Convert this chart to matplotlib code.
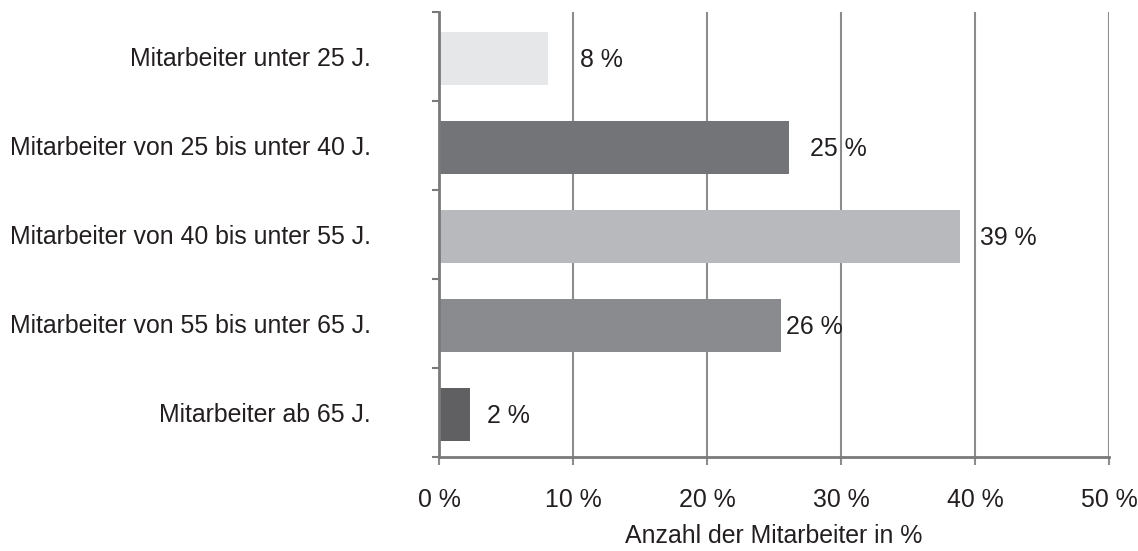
import matplotlib.pyplot as plt
import numpy as np

plt.rcParams['font.family'] = ['Liberation Sans', 'DejaVu Sans']

# Age groups, top to bottom
categories = [
    "Mitarbeiter unter 25 J.",
    "Mitarbeiter von 25 bis unter 40 J.",
    "Mitarbeiter von 40 bis unter 55 J.",
    "Mitarbeiter von 55 bis unter 65 J.",
    "Mitarbeiter ab 65 J.",
]
# bar lengths as drawn (%), and the printed labels
values = [8.1, 26.1, 38.9, 25.5, 2.3]
value_labels = ["8 %", "25 %", "39 %", "26 %", "2 %"]
xticks = [0, 10, 20, 30, 40, 50]
xtick_labels = ["0 %", "10 %", "20 %", "30 %", "40 %", "50 %"]

bar_colors = ['#e6e7e8', '#737477', '#b8b9bc', '#8a8b8e', '#606062']
# gap between bar end and its label, in data units
label_gap = [2.4, 1.6, 1.5, 0.4, 1.3]

FS = 17.9

fig = plt.figure(figsize=(11.38, 5.51), dpi=100)
ax = fig.add_axes([0.3858, 0.1706, 0.5887, 0.8076])

y = np.arange(len(categories))
ax.barh(y + 0.02, values, height=0.6, color=bar_colors, zorder=3)

for i, v in enumerate(values):
    ax.text(v + label_gap[i], y[i] + 0.04, value_labels[i], va='center', ha='left',
            fontsize=FS, color='#231f20', zorder=4)

ax.set_xlim(0, 50)
ax.set_ylim(len(categories) - 0.5, -0.5)

# grid
for xt in xticks[1:]:
    ax.axvline(xt, color='#8c8c8c', linewidth=1.5, zorder=1)

# ticks
ax.set_xticks(xticks)
ax.set_xticklabels(xtick_labels)
ax.set_yticks(np.arange(-0.5, len(categories) + 0.5, 1))
ax.set_yticklabels([])
ax.set_yticks(y, minor=True)
ax.set_yticklabels(categories, minor=True)
ax.tick_params(axis='y', which='major', length=5, width=1.5, color='#7a7a7a', direction='out')
ax.tick_params(axis='y', which='minor', length=0, pad=49, labelsize=FS, labelcolor='#231f20')
ax.tick_params(axis='x', length=6, width=1.5, color='#8c8c8c', pad=16, labelsize=FS,
               labelcolor='#231f20')

for s in ['top', 'right']:
    ax.spines[s].set_visible(False)
for s in ['left', 'bottom']:
    ax.spines[s].set_color('#7a7a7a')
    ax.spines[s].set_linewidth(2)
    ax.spines[s].set_zorder(5)

ax.set_xlabel('Anzahl der Mitarbeiter in %', fontsize=FS, color='#231f20', labelpad=9)

fig.savefig('out.png', dpi=100)
